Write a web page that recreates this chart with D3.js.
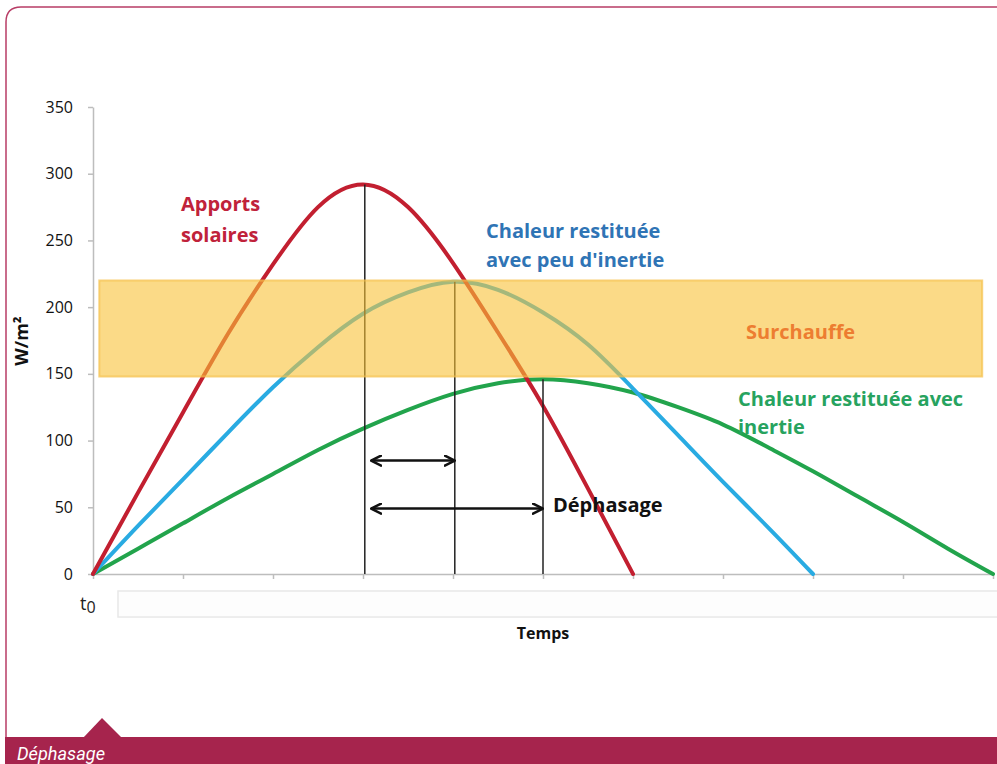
<!DOCTYPE html>
<html>
<head>
<meta charset="utf-8">
<script src="https://cdn.jsdelivr.net/npm/d3@7"></script>
<style>
  body { margin: 0; background: #fff; }
  svg { display: block; }
</style>
</head>
<body>
<svg id="chart" width="997" height="764"></svg>
<script>
// values (time in tick units, W/m²)
const times = [0, 0.5, 1, 1.5, 2, 2.5, 3, 3.5, 4, 4.5, 5, 5.5, 6, 6.5, 7, 7.5, 8, 8.5, 9, 9.5, 10];
const apportsSolaires = [0, 61, 121, 180, 232, 275, 292, 275, 233, 181, 126, 64, 0];
const peuInertie = [0, 36, 71, 106, 140, 170, 195, 211, 219, 213, 196, 172, 139, 104, 69, 35, 0];
const avecInertie = [0, 19, 38, 57, 75, 93, 109, 123, 135, 143, 146, 143, 136, 125, 112, 95, 77, 58, 39, 19, 0];
const yTicks = [0, 50, 100, 150, 200, 250, 300, 350];
const surchauffe = [148, 220];      // band low / high
const surchauffeSpan = [0.07, 9.88]; // band start / end in time units
const peakTimes = [3.02, 4.02, 5.0];
const arrowLevels = [85, 49];        // y of the two arrows
const arrowStart = 3.09;

const svg = d3.select("#chart");
const W = 997, H = 764;

const x = d3.scaleLinear().domain([0, 10]).range([93, 993]);
const y = d3.scaleLinear().domain([0, 350]).range([574, 107]);

const crimson = "#a6244d";
const font = "'Open Sans', Lato, sans-serif";

// frame
svg.append("path")
  .attr("d", "M6,737 L6,22 Q6,7 21,7 L1000,7")
  .attr("fill", "none")
  .attr("stroke", "#b83d66")
  .attr("stroke-width", 1.5);

// light box under the x axis
svg.append("rect")
  .attr("x", 118).attr("y", 591).attr("width", 890).attr("height", 26)
  .attr("fill", "#fdfdfd").attr("stroke", "#e8e8e8").attr("stroke-width", 1.5);

// axes
const yAxis = svg.append("g")
  .attr("transform", `translate(${x(0)},0)`)
  .call(d3.axisLeft(y).tickValues(yTicks).tickSize(5).tickPadding(15).tickSizeOuter(0));
yAxis.select(".domain").attr("stroke", "#bdbdbd").attr("stroke-width", 1.5);
yAxis.selectAll(".tick line").attr("stroke", "#bdbdbd").attr("stroke-width", 1.5);
yAxis.selectAll(".tick text")
  .attr("font-family", font)
  .attr("font-size", 16).attr("fill", "#111");

const xAxis = svg.append("g")
  .attr("transform", `translate(0,${y(0)})`)
  .call(d3.axisBottom(x).ticks(10).tickSize(5).tickFormat("").tickSizeOuter(0));
xAxis.select(".domain").attr("stroke", "#bdbdbd").attr("stroke-width", 1.5);
xAxis.selectAll(".tick line").attr("stroke", "#bdbdbd").attr("stroke-width", 1.5);

// curves
const line = d3.line()
  .x((d, i) => x(times[i]))
  .y(d => y(d))
  .curve(d3.curveNatural);

const series = [
  { values: avecInertie, color: "#22a44c" },
  { values: peuInertie, color: "#29abe2" },
  { values: apportsSolaires, color: "#c21f30" }
];
svg.selectAll("path.curve")
  .data(series)
  .join("path")
  .attr("class", "curve")
  .attr("d", d => line(d.values))
  .attr("fill", "none")
  .attr("stroke", d => d.color)
  .attr("stroke-width", 4)
  .attr("stroke-linecap", "round");

// vertical lines from each peak to the axis
const peakValues = [d3.max(apportsSolaires), d3.max(peuInertie), d3.max(avecInertie)];
svg.selectAll("line.peak")
  .data(peakTimes)
  .join("line")
  .attr("class", "peak")
  .attr("x1", d => x(d)).attr("x2", d => x(d))
  .attr("y1", (d, i) => y(peakValues[i])).attr("y2", y(0))
  .attr("stroke", "#222").attr("stroke-width", 1.5);

// overheating band (semi-transparent over the curves)
svg.append("rect")
  .attr("x", x(surchauffeSpan[0]))
  .attr("y", y(surchauffe[1]))
  .attr("width", x(surchauffeSpan[1]) - x(surchauffeSpan[0]))
  .attr("height", y(surchauffe[0]) - y(surchauffe[1]))
  .attr("fill", "#f9c237").attr("fill-opacity", 0.6)
  .attr("stroke", "#f5c04a").attr("stroke-opacity", 0.7).attr("stroke-width", 2);

// arrows
const defs = svg.append("defs");
defs.append("marker")
  .attr("id", "chev")
  .attr("viewBox", "0 0 12 12")
  .attr("refX", 11).attr("refY", 6)
  .attr("markerWidth", 12).attr("markerHeight", 12)
  .attr("markerUnits", "userSpaceOnUse")
  .attr("orient", "auto-start-reverse")
  .append("path")
  .attr("d", "M1,1 L11,6 L1,11")
  .attr("fill", "none").attr("stroke", "#111").attr("stroke-width", 2.5)
  .attr("stroke-linecap", "round").attr("stroke-linejoin", "round");

svg.selectAll("line.arrow")
  .data(arrowLevels)
  .join("line")
  .attr("class", "arrow")
  .attr("x1", x(arrowStart))
  .attr("x2", (d, i) => x(peakTimes[i + 1]))
  .attr("y1", d => y(d)).attr("y2", d => y(d))
  .attr("stroke", "#111").attr("stroke-width", 2.5)
  .attr("marker-start", "url(#chev)").attr("marker-end", "url(#chev)");

// labels
function label(lines, px, py, color, size, lh) {
  const t = svg.append("text")
    .attr("font-family", font).attr("font-weight", "bold")
    .attr("font-size", size).attr("fill", color);
  lines.forEach((s, i) => {
    t.append("tspan").attr("x", px).attr("y", py + i * lh).text(s);
  });
}
label(["Apports", "solaires"], 181, 211, "#c0223a", 20, 31);
label(["Chaleur restituée", "avec peu d'inertie"], 486, 238, "#2f74b5", 20, 29);
label(["Surchauffe"], 746, 339, "#ed7d31", 20, 0);
label(["Chaleur restituée avec", "inertie"], 738, 406, "#27a35f", 20, 28);
label(["Déphasage"], 553, 512, "#111", 20, 0);

// axis titles
svg.append("text")
  .attr("transform", "translate(28,341) rotate(-90)")
  .attr("text-anchor", "middle")
  .attr("font-family", font).attr("font-weight", "bold").attr("font-size", 18)
  .attr("fill", "#111").text("W/m²");

svg.append("text")
  .attr("x", 543).attr("y", 639).attr("text-anchor", "middle")
  .attr("font-family", font).attr("font-weight", "bold").attr("font-size", 16)
  .attr("fill", "#111").text("Temps");

const t0 = svg.append("text")
  .attr("x", 80).attr("y", 610)
  .attr("font-family", font).attr("font-size", 18).attr("fill", "#222");
t0.append("tspan").text("t");
t0.append("tspan").attr("dy", 3).attr("font-size", 16).text("0");

// caption band
svg.append("rect")
  .attr("x", 5).attr("y", 737).attr("width", W - 5).attr("height", H - 737)
  .attr("fill", crimson);
svg.append("path")
  .attr("d", "M83,738 L102,718 L122,738 Z")
  .attr("fill", crimson);
svg.append("text")
  .attr("x", 17).attr("y", 760)
  .attr("font-family", "Roboto, sans-serif").attr("font-style", "italic")
  .attr("font-size", 19).attr("fill", "#fff")
  .attr("textLength", 88).attr("lengthAdjust", "spacingAndGlyphs")
  .text("Déphasage");
</script>
</body>
</html>
